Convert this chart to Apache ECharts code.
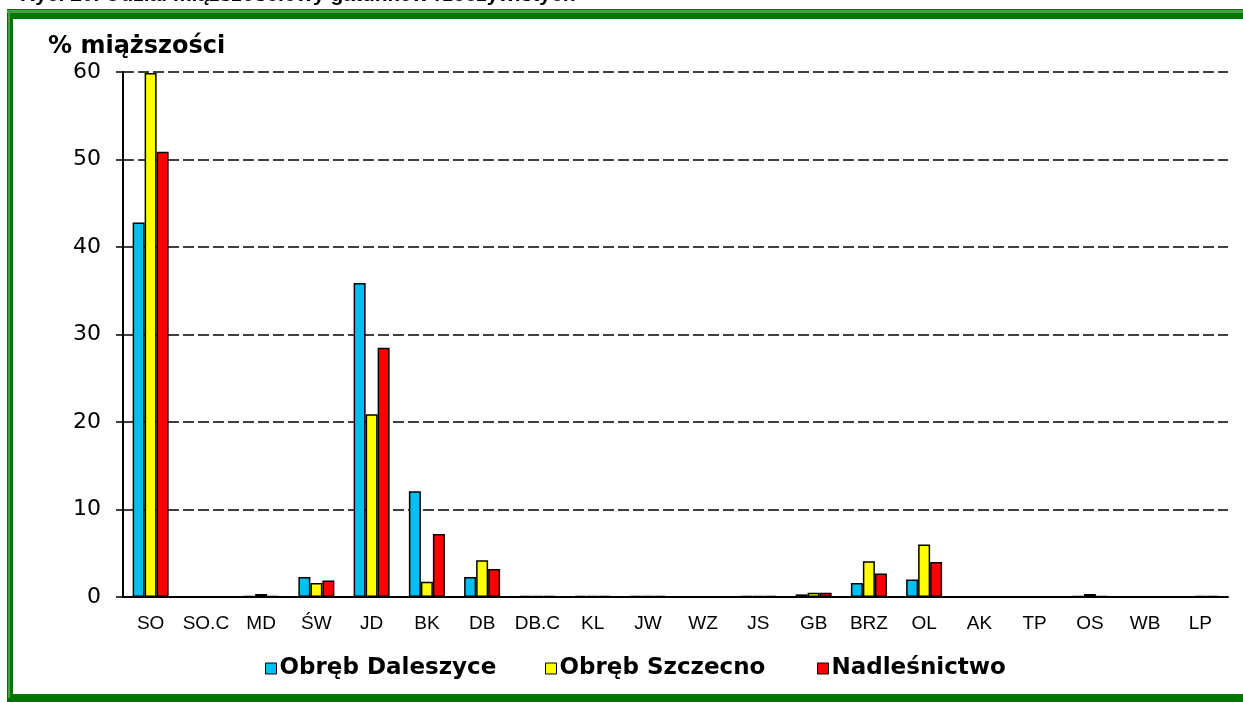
<!DOCTYPE html>
<html>
<head>
<meta charset="utf-8">
<script src="https://cdn.jsdelivr.net/npm/echarts@6/dist/echarts.min.js"></script>
<style>
html,body{margin:0;padding:0;background:#fff;}
#chart{width:1243px;height:702px;}
</style>
</head>
<body>
<div id="chart"></div>
<script>
const categories = ['SO','SO.C','MD','ŚW','JD','BK','DB','DB.C','KL','JW','WZ','JS','GB','BRZ','OL','AK','TP','OS','WB','LP'];
const seriesNames = ['Obręb Daleszyce','Obręb Szczecno','Nadleśnictwo'];
const daleszyce = [42.8,0,0.1,2.3,35.9,12.1,2.3,0.1,0.1,0.1,0,0.1,0.3,1.6,2.0,0,0,0.1,0,0];
const szczecno  = [59.9,0,0.35,1.6,20.9,1.75,4.2,0.1,0.1,0.1,0,0.1,0.5,4.1,6.0,0,0,0.35,0,0.1];
const nadlesnictwo = [50.9,0,0.1,1.9,28.5,7.2,3.2,0.1,0.1,0.1,0,0.1,0.5,2.7,4.0,0,0,0.1,0,0.1];
const yTicks = [0,10,20,30,40,50,60];

const FONT = '"Liberation Sans", Arial, sans-serif';
const WIDE = '"DejaVu Sans", sans-serif';
const colors = ['#00BFF3','#FFFF00','#FF0000'];

const chart = echarts.init(document.getElementById('chart'));
const valuesList = [daleszyce, szczecno, nadlesnictwo];
const legendLefts = [260, 540, 812];

chart.setOption({
  animation: false,
  backgroundColor: '#fff',
  title: {
    text: '% miąższości',
    left: 43, top: 30,
    textStyle: {fontFamily: WIDE, fontSize: 24, fontWeight: 'bold', color: '#000'}
  },
  legend: seriesNames.map((n, i) => ({
    data: [n],
    left: legendLefts[i],
    top: 652,
    icon: 'rect',
    itemWidth: 11, itemHeight: 11,
    itemStyle: {borderColor: '#000', borderWidth: 1},
    textStyle: {fontFamily: WIDE, fontSize: 23, fontWeight: 'bold', color: '#000', padding: [0,0,0,-2]}
  })),
  grid: {left: 123, right: 15, top: 72, bottom: 105, containLabel: false},
  xAxis: {
    type: 'category',
    data: categories,
    axisLine: {lineStyle: {color: '#000', width: 2}},
    axisTick: {show: false},
    axisLabel: {fontFamily: FONT, fontSize: 19, color: '#000', margin: 17, interval: 0}
  },
  yAxis: {
    type: 'value',
    min: yTicks[0], max: yTicks[yTicks.length-1], interval: 10,
    axisLine: {show: true, lineStyle: {color: '#000', width: 2}},
    axisTick: {show: true, length: 7, lineStyle: {color: '#000', width: 1.5}},
    axisLabel: {fontFamily: WIDE, fontSize: 22, color: '#000', margin: 22},
    splitLine: {lineStyle: {color: '#000', width: 1.5, type: [11,4]}}
  },
  series: seriesNames.map((n, i) => ({
    name: n,
    type: 'bar',
    data: valuesList[i],
    barWidth: 12,
    barGap: '0%',
    itemStyle: {color: colors[i], borderColor: '#000', borderWidth: 1.5}
  })),
  graphic: [
    {type: 'text', left: 20, top: -15, z: 100,
     style: {text: 'Ryc. 20. Udział miąższościowy gatunków rzeczywistych', font: 'bold 21px ' + FONT, fill: '#000'}},
    {type: 'rect', shape: {x: 7, y: 9, width: 1250, height: 10}, style: {fill: '#007500'}, z: 100},
    {type: 'rect', shape: {x: 7, y: 10, width: 1250, height: 3}, style: {fill: '#45a045'}, z: 101},
    {type: 'rect', shape: {x: 7, y: 9, width: 6, height: 691}, style: {fill: '#007500'}, z: 100},
    {type: 'rect', shape: {x: 8, y: 12, width: 2, height: 686}, style: {fill: '#45a045'}, z: 101},
    {type: 'rect', shape: {x: 7, y: 694, width: 1250, height: 8}, style: {fill: '#007500'}, z: 100}
  ]
});
</script>
</body>
</html>
